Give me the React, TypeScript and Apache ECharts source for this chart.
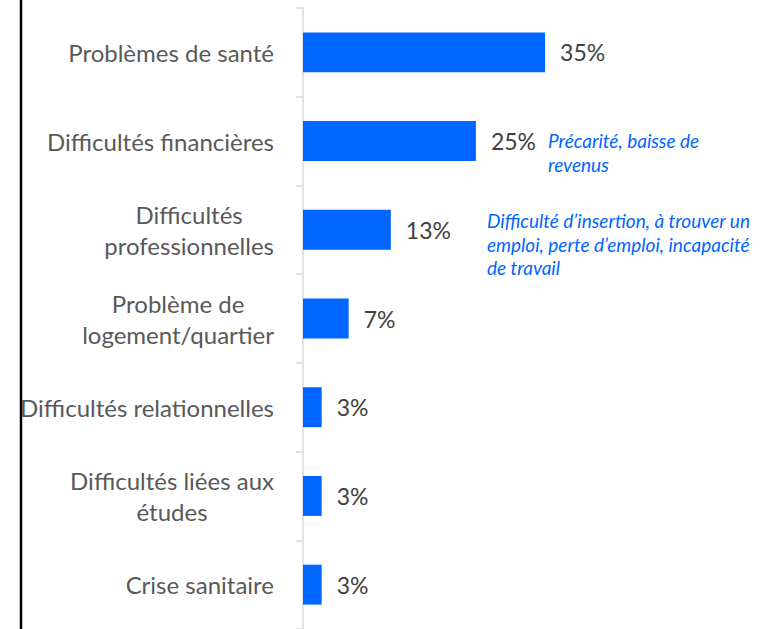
import React, { useEffect, useRef } from "react";
import * as echarts from "echarts";

const categories = [
  "Problèmes de santé",
  "Difficultés financières",
  "Difficultés\nprofessionnelles",
  "Problème de\nlogement/quartier",
  "Difficultés relationnelles",
  "Difficultés liées aux\nétudes",
  "Crise sanitaire",
];
const values = [35, 25, 12.7, 6.6, 2.7, 2.7, 2.7];
const valueLabels = ["35%", "25%", "13%", "7%", "3%", "3%", "3%"];
const noteFinance = "Précarité, baisse de\nrevenus";
const notePro = "Difficulté d’insertion, à trouver un\nemploi, perte d’emploi, incapacité\nde travail";

const FONT = "Lato, 'Open Sans', sans-serif";

export default function App() {
  const ref = useRef<HTMLDivElement>(null);
  useEffect(() => {
    if (!ref.current) return;
    const chart = echarts.init(ref.current, undefined, { renderer: "svg" });
    chart.setOption({
      animation: false,
      grid: { left: 303, top: 8, width: 415, height: 623 },
      xAxis: {
        type: "value",
        min: 0,
        max: 60,
        show: false,
      },
      yAxis: {
        type: "category",
        inverse: true,
        data: categories,
        axisLine: { show: true, lineStyle: { color: "#d9d9d9", width: 1.5 } },
        axisTick: { show: true, length: 7, lineStyle: { color: "#d9d9d9", width: 1.5 } },
        axisLabel: {
          margin: 29,
          align: "right",
          formatter: (v: string) =>
            v
              .split("\n")
              .map((l) => "{c|" + l + "}")
              .join("\n"),
          rich: {
            c: {
              align: "center",
              fontSize: 24,
              fontFamily: FONT,
              color: "#595959",
              lineHeight: 31,
            },
          },
        },
      },
      series: [
        {
          type: "bar",
          data: values,
          barWidth: "45%",
          itemStyle: { color: "#0066ff" },
          label: {
            show: true,
            position: "right",
            distance: 15,
            fontSize: 23,
            fontFamily: FONT,
            color: "#404040",
            formatter: (p: any) => valueLabels[p.dataIndex],
          },
        },
      ],
      graphic: [
        {
          type: "line",
          shape: { x1: 21, y1: 0, x2: 21, y2: 629 },
          style: { stroke: "#000", lineWidth: 2.5 },
        },
        {
          type: "text",
          x: 548,
          y: 128,
          style: {
            text: noteFinance,
            fontSize: 19,
            fontStyle: "italic",
            fontFamily: FONT,
            fill: "#0066ff",
            lineHeight: 24,
            textVerticalAlign: "top",
          },
        },
        {
          type: "text",
          x: 487,
          y: 209,
          style: {
            text: notePro,
            fontSize: 19,
            fontStyle: "italic",
            fontFamily: FONT,
            fill: "#0066ff",
            lineHeight: 23.5,
            textVerticalAlign: "top",
          },
        },
      ],
    });
    return () => chart.dispose();
  }, []);
  return (
    <div
      ref={ref}
      style={{ position: "fixed", left: 0, top: 0, width: 760, height: 629, background: "#fff" }}
    />
  );
}
